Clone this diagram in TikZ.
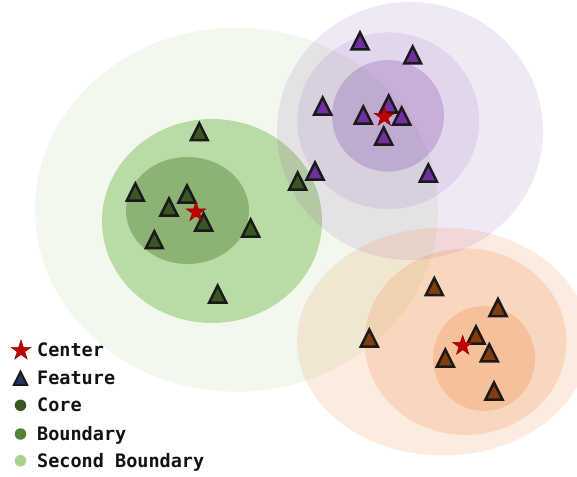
\documentclass[tikz,border=0pt]{standalone}
\usepackage{fontspec}
\newfontfamily\legendfont{DejaVu Sans Mono}
\usetikzlibrary{shapes.geometric}

\definecolor{grnlight}{HTML}{A9D18E}
\definecolor{grnmid}{HTML}{548235}
\definecolor{grndark}{HTML}{385723}
\definecolor{purp}{HTML}{7030A0}
\definecolor{orng}{HTML}{ED7D31}
\definecolor{brwn}{HTML}{843C0C}
\definecolor{navy}{HTML}{203864}
\definecolor{starred}{HTML}{C00000}
\definecolor{edge}{HTML}{1A1A1A}

\tikzset{
  zone/.style 2 args={fill=#1, fill opacity=#2, draw=none},
  feature/.pic={\path[pic actions] (0,-8.5) -- (-8.5,8.5) -- (8.5,8.5) -- cycle;},
  feat/.style={draw=edge, fill=#1, line width=2.5pt, line join=miter},
  centre/.style={star, star points=5, star point ratio=2.618, minimum size=21pt,
    inner sep=0pt, fill=starred, draw=starred!75!black, line width=0.5pt},
  dot/.style={circle, minimum size=11.5pt, inner sep=0pt, fill=#1},
  legtext/.style={anchor=base west, inner sep=0pt,
    font=\legendfont\bfseries\fontsize{18.5}{21}\selectfont, text=black!93}
}

\begin{document}
\begin{tikzpicture}[x=1pt,y=-1pt]
\useasboundingbox (0,0) rectangle (577,476);
\clip (0,0) rectangle (577,476);

% green cluster zones
\fill[zone={grnlight}{0.15}] (236.5,209.7) ellipse [x radius=201.5pt, y radius=182pt];
\fill[zone={grnlight}{0.75}] (212,221) ellipse [x radius=110pt, y radius=102pt];
\fill[zone={grnmid}{0.44}] (187.5,210.5) ellipse [x radius=61.5pt, y radius=53.5pt];

% purple cluster zones
\fill[zone={purp}{0.11}] (410,131) ellipse [x radius=133pt, y radius=129pt];
\fill[zone={purp}{0.10}] (388.3,120.7) ellipse [x radius=91pt, y radius=88.3pt];
\fill[zone={purp}{0.23}] (388,115.8) ellipse [x radius=56pt, y radius=55.8pt];

% orange cluster zones
\fill[zone={orng}{0.15}] (443,341.5) ellipse [x radius=146pt, y radius=114pt];
\fill[zone={orng}{0.19}] (465.5,341.7) ellipse [x radius=101pt, y radius=93.3pt];
\fill[zone={orng}{0.25}] (484,358.5) ellipse [x radius=51pt, y radius=52.5pt];

% green features
\foreach \x/\y in {199.3/131.7, 135.3/192, 169/207, 187/194, 203.7/222,
                   154.3/239.7, 250.7/228, 217.7/294, 297.7/181}
  \pic[feat=grndark] at (\x,\y) {feature};

% purple features
\foreach \x/\y in {360/41, 412.7/55, 322.7/106, 363.3/115, 388.7/104,
                   401.7/116, 383.7/136, 428.3/173, 315/171}
  \pic[feat=purp] at (\x,\y) {feature};

% orange features
\foreach \x/\y in {434.3/286.5, 498/307.5, 369.3/338, 476/335,
                   489.3/352.8, 445.3/358, 494/391}
  \pic[feat=brwn] at (\x,\y) {feature};

% cluster centres
\node[centre] (cg) at (196,212) {};
\node[centre] (cp) at (384.3,116.7) {};
\node[centre] (co) at (462.7,345.7) {};

% legend
\node[centre] (kcentre) at (21,350.5) {};
\pic[feat=navy, scale=0.78, line width=2pt] at (20.5,378.3) {feature};
\node[dot=grndark] (kcore) at (20.5,405.3) {};
\node[dot=grnmid] (kbound) at (20.5,434) {};
\node[dot=grnlight] (ksecond) at (20.5,460.7) {};

\node[legtext] (tcentre) at (37,356.9) {Center};
\node[legtext] (tfeature) at (37,384.7) {Feature};
\node[legtext] (tcore) at (37,411.8) {Core};
\node[legtext] (tbound) at (37,440.4) {Boundary};
\node[legtext] (tsecond) at (37,467.1) {Second Boundary};
\end{tikzpicture}
\end{document}
